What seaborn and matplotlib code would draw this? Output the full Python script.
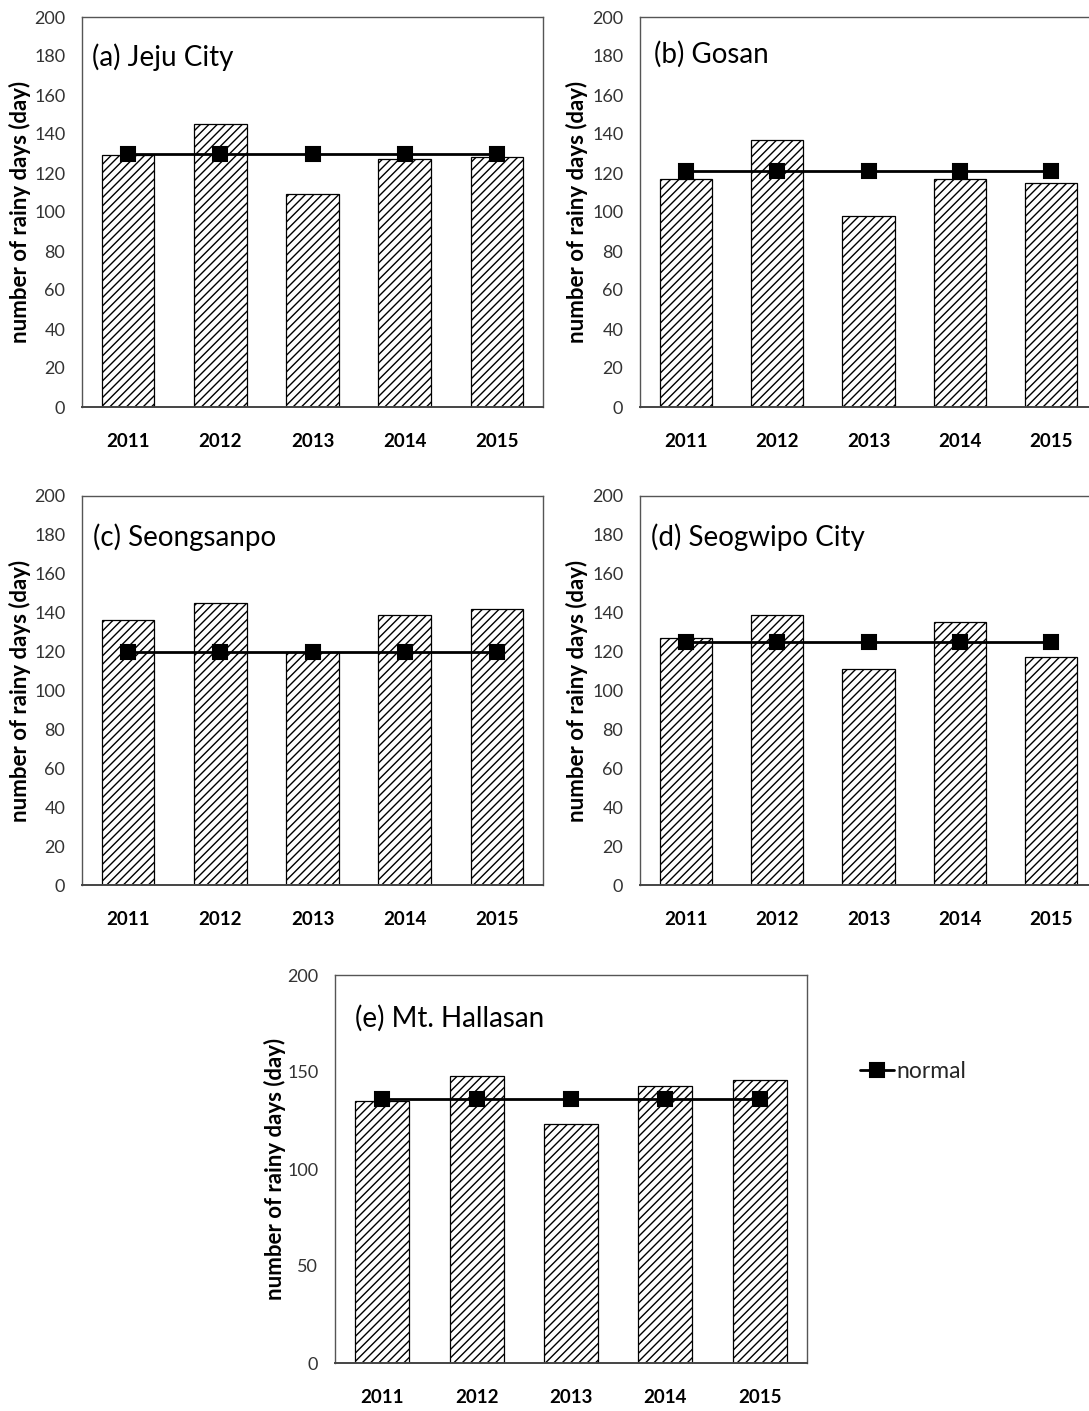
import matplotlib
matplotlib.use("Agg")
import matplotlib.pyplot as plt
import seaborn as sns
import pandas as pd

# ---- data: annual number of rainy days and the climatological normal ----
years = ["2011", "2012", "2013", "2014", "2015"]

jeju_days = [129, 145, 109, 127, 128]
jeju_normal = [130, 130, 130, 130, 130]

gosan_days = [117, 137, 98, 117, 115]
gosan_normal = [121, 121, 121, 121, 121]

seongsanpo_days = [136, 145, 120, 139, 142]
seongsanpo_normal = [120, 120, 120, 120, 120]

seogwipo_days = [127, 139, 111, 135, 117]
seogwipo_normal = [125, 125, 125, 125, 125]

hallasan_days = [135, 148, 123, 143, 146]
hallasan_normal = [136, 136, 136, 136, 136]

titles = ["(a) Jeju City", "(b) Gosan", "(c) Seongsanpo",
          "(d) Seogwipo City", "(e) Mt. Hallasan"]
ylabel = "number of rainy days (day)"
yticks_20 = [0, 20, 40, 60, 80, 100, 120, 140, 160, 180, 200]
yticks_50 = [0, 50, 100, 150, 200]

sns.set_theme(style="white")
plt.rcParams["font.family"] = ["Lato", "DejaVu Sans"]
plt.rcParams["hatch.linewidth"] = 1.0

W, H = 1089, 1411
fig = plt.figure(figsize=(W / 100, H / 100), dpi=100)


def rect(left, top, right, bottom):
    return [left / W, 1 - bottom / H, (right - left) / W, (bottom - top) / H]


panels = [
    # axes box (px), days, normal, title pos, ylabel x, yticks
    (rect(82, 17, 543, 407), jeju_days, jeju_normal, (0.022, 0.897), -0.111, yticks_20),
    (rect(640, 17, 1097, 407), gosan_days, gosan_normal, (0.031, 0.905), -0.114, yticks_20),
    (rect(82, 496, 543, 885), seongsanpo_days, seongsanpo_normal, (0.024, 0.895), -0.111, yticks_20),
    (rect(640, 496, 1097, 885), seogwipo_days, seogwipo_normal, (0.024, 0.895), -0.114, yticks_20),
    (rect(335, 975, 807, 1363), hallasan_days, hallasan_normal, (0.042, 0.889), -0.103, yticks_50),
]

normal_handle = None
for (box, days, normal, tpos, ylab_x, yticks), title in zip(panels, titles):
    ax = fig.add_axes(box)
    df = pd.DataFrame({"year": years, "days": days, "normal": normal})

    sns.barplot(data=df, x="year", y="days", color="white", saturation=1,
                edgecolor="black", linewidth=0.9, hatch="////", width=0.57,
                ax=ax)
    sns.pointplot(data=df, x="year", y="normal", color="black", markers="s",
                  errorbar=None, markersize=10, linewidth=2.0, ax=ax)

    ax.set_xlim(-0.5, len(years) - 0.5)
    ax.set_ylim(0, 200)
    ax.set_yticks(yticks)
    ax.set_yticklabels([str(t) for t in yticks], fontsize=13, color="#333333")
    ax.set_xticks(range(len(years)))
    ax.set_xticklabels(years, fontsize=13.5, fontweight="bold", color="black")
    ax.tick_params(axis="y", length=0, pad=12)
    ax.tick_params(axis="x", length=0, pad=19)

    ax.set_xlabel("")
    ax.set_ylabel(ylabel, fontsize=16, fontweight="bold", color="black")
    ax.yaxis.set_label_coords(ylab_x, 0.5)

    for side, sp in ax.spines.items():
        sp.set_visible(True)
        sp.set_color("#555555")
        sp.set_linewidth(1.0)
    ax.spines["bottom"].set_color("#444444")
    ax.spines["bottom"].set_linewidth(1.4)

    ax.text(tpos[0], tpos[1], title, transform=ax.transAxes, fontsize=20,
            ha="left", va="center", color="black")

    for ln in ax.lines:
        if ln.get_marker() == "s":
            normal_handle = ln

fig.legend(handles=[normal_handle], labels=["normal"], loc="center left",
           bbox_to_anchor=(860 / W, 1 - 1072 / H), frameon=False,
           fontsize=16.5, handlelength=1.5, handletextpad=0.1,
           borderpad=0, borderaxespad=0, numpoints=1)

fig.savefig("out.png", dpi=100, facecolor="white")
